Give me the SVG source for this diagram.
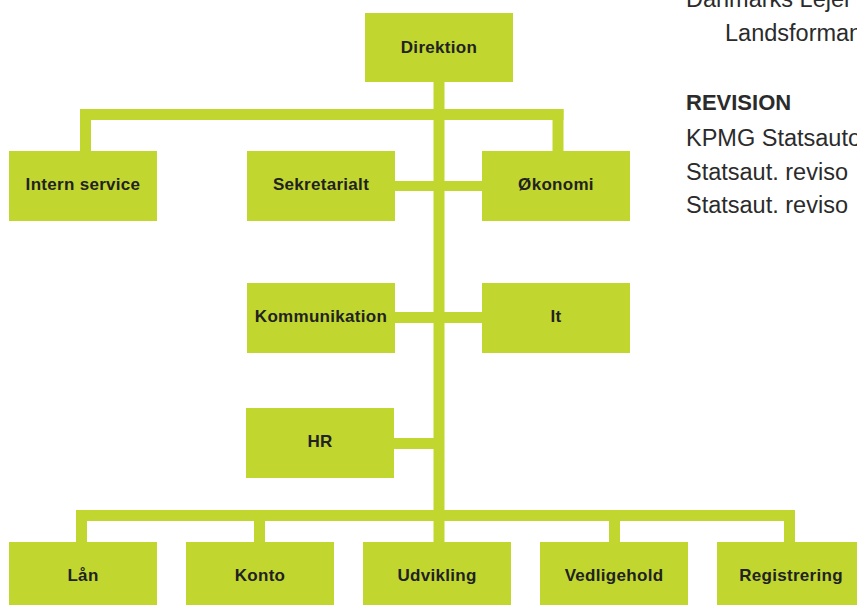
<svg xmlns="http://www.w3.org/2000/svg" width="857" height="605" viewBox="0 0 857 605">
<style>
.box{fill:#c1d72f}
.lbl{font-family:"Liberation Sans",Arial,sans-serif;font-weight:bold;font-size:17px;letter-spacing:0.3px;fill:#222;text-anchor:middle}
.conn{fill:#c1d72f}
.side{font-family:"Liberation Sans",Arial,sans-serif;font-size:23.5px;fill:#2b2b2b}
.head{font-family:"Liberation Sans",Arial,sans-serif;font-size:22px;font-weight:bold;fill:#2b2b2b}
</style>
<rect width="857" height="605" fill="#fff"/>
<g id="connectors">
<rect class="conn" x="433.5" y="82" width="11" height="460"/>
<rect class="conn" x="80" y="109" width="483.5" height="11"/>
<rect class="conn" x="80" y="109" width="11" height="42"/>
<rect class="conn" x="552.5" y="109" width="11" height="42"/>
<rect class="conn" x="395" y="181" width="87" height="10"/>
<rect class="conn" x="395" y="312" width="87" height="11"/>
<rect class="conn" x="394" y="438" width="40" height="11"/>
<rect class="conn" x="76" y="510" width="719" height="11"/>
<rect class="conn" x="76" y="510" width="11" height="32"/>
<rect class="conn" x="254" y="510" width="11" height="32"/>
<rect class="conn" x="609" y="510" width="11" height="32"/>
<rect class="conn" x="784" y="510" width="11" height="32"/>
</g>
<g id="direktion"><rect class="box" x="365" y="13" width="148" height="69"/><text class="lbl" x="439" y="53">Direktion</text></g>
<g id="intern-service"><rect class="box" x="9" y="151" width="148" height="70"/><text class="lbl" x="83" y="190">Intern service</text></g>
<g id="sekretarialt"><rect class="box" x="247" y="151" width="148" height="70"/><text class="lbl" x="321" y="190">Sekretarialt</text></g>
<g id="okonomi"><rect class="box" x="482" y="151" width="148" height="70"/><text class="lbl" x="556" y="190">Økonomi</text></g>
<g id="kommunikation"><rect class="box" x="247" y="283" width="148" height="70"/><text class="lbl" x="321" y="322">Kommunikation</text></g>
<g id="it"><rect class="box" x="482" y="283" width="148" height="70"/><text class="lbl" x="556" y="322">It</text></g>
<g id="hr"><rect class="box" x="246" y="408" width="148" height="70"/><text class="lbl" x="320" y="447">HR</text></g>
<g id="laan"><rect class="box" x="9" y="542" width="148" height="70"/><text class="lbl" x="83" y="581">Lån</text></g>
<g id="konto"><rect class="box" x="186" y="542" width="148" height="70"/><text class="lbl" x="260" y="581">Konto</text></g>
<g id="udvikling"><rect class="box" x="363" y="542" width="148" height="70"/><text class="lbl" x="437" y="581">Udvikling</text></g>
<g id="vedligehold"><rect class="box" x="540" y="542" width="148" height="70"/><text class="lbl" x="614" y="581">Vedligehold</text></g>
<g id="registrering"><rect class="box" x="717" y="542" width="148" height="70"/><text class="lbl" x="791" y="581">Registrering</text></g>
<g id="side-text">
<text class="side" x="686" y="7">Danmarks Lejer</text>
<text class="side" x="725" y="41">Landsforman</text>
<text class="head" x="686" y="110">REVISION</text>
<text class="side" x="686" y="146">KPMG Statsauto</text>
<text class="side" x="686" y="180">Statsaut. reviso</text>
<text class="side" x="686" y="213">Statsaut. reviso</text>
</g>
</svg>
